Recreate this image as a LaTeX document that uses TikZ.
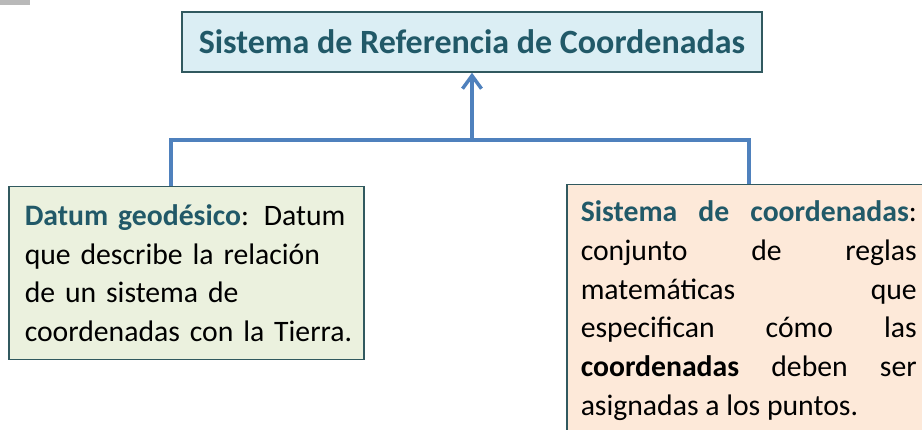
\documentclass[tikz,border=0pt]{standalone}
\usepackage{fontspec}
\setmainfont{Carlito}
\usetikzlibrary{arrows.meta}
\definecolor{tealtext}{RGB}{33,89,104}
\definecolor{tealline}{RGB}{49,89,95}
\definecolor{connblue}{RGB}{79,129,189}
\definecolor{titlefill}{RGB}{219,238,244}
\definecolor{datfill}{RGB}{235,241,222}
\definecolor{sisfill}{RGB}{253,233,217}
\begin{document}
\begin{tikzpicture}[%
 x=1pt,y=-1pt,
 srsbox/.style={
 	rectangle,
 	draw=tealline,
 	line width=1.5pt,
 	fill=titlefill,
 	text=tealtext,
 	font=\fontsize{34}{40}\selectfont\bfseries,
 	minimum width=580pt,
 	minimum height=60pt
 },
 datbox/.style={
 	rectangle,
 	draw=tealline,
 	line width=1.5pt,
 	fill=datfill,
 	font=\fontsize{29.7}{38.5}\selectfont,
 	text width=323pt,
 	align=left,
 	inner xsep=16pt,
 	minimum height=173pt
 },
 sisbox/.style={
 	rectangle,
 	draw=tealline,
 	line width=1.5pt,
 	fill=sisfill,
 	font=\fontsize{29.7}{38.8}\selectfont,
 	text width=336pt,
 	align=justify,
 	inner xsep=14pt,
 	inner ysep=16pt
 },
 conn/.style={
 	draw=connblue,
 	line width=3.5pt
 }
 ]
 \useasboundingbox (0,0) rectangle (922,430);
 \clip (0,0) rectangle (922,430);
 \fill[gray!55] (0,0) rectangle (30,5);
 \path (472,42) node[srsbox] (srs) {Sistema de Referencia de Coordenadas};
 \path (8,186) node[datbox,anchor=north west] (dat) {\mbox{\textcolor{tealtext}{\bfseries Datum geodésico}: Datum}\\que describe la relación\\de un sistema de\\\mbox{coordenadas con la Tierra.}};
 \path (566,184) node[sisbox,anchor=north west] (sis) {\textcolor{tealtext}{\bfseries Sistema de coordenadas}:\linebreak conjunto de reglas\linebreak matemáticas que\linebreak especifican cómo las\linebreak {\bfseries coordenadas} deben ser\linebreak asignadas a los puntos.};
\coordinate (hub) at (srs.south |- 0,140);
\draw[conn] ([xshift=-15.5pt]dat.north) |- (hub) -| (sis.north);
\draw[conn,-{Straight Barb[length=13pt,width=19pt]}] (hub) -- (srs.south);
\end{tikzpicture}
\end{document}
